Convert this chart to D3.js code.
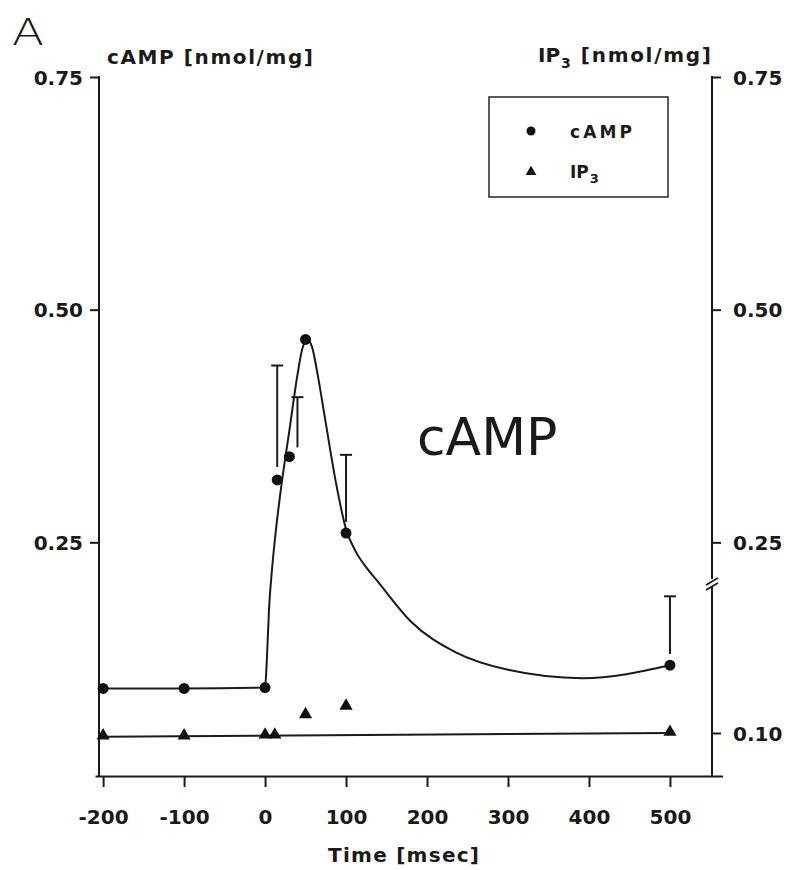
<!DOCTYPE html>
<html>
<head>
<meta charset="utf-8">
<script src="https://cdn.jsdelivr.net/npm/d3@7/dist/d3.min.js"></script>
<style>
  body { margin: 0; background: #fff; }
  text { font-family: "DejaVu Sans", sans-serif; fill: #1a1a1a; }
</style>
</head>
<body>
<div id="chart"></div>
<script>
// measured points (time in msec)
var campTime = [-200, -100, 0, 15, 30, 50, 100, 500];
var campVal = [0.093, 0.093, 0.094, 0.317, 0.342, 0.468, 0.260, 0.118];
// SE bars: x position (msec), top value, bottom value
var errTime = [15, 40, 100, 500];
var errTop = [0.440, 0.406, 0.344, 0.192];
var errBot = [0.331, 0.352, 0.272, 0.130];

// fitted cAMP curve
var fitTime = [-200, -100, 0, 2, 5, 9, 13, 20, 30, 40, 46, 52, 58, 65, 75, 88, 100, 112, 125, 140, 180, 235, 300, 392, 500];
var fitVal = [0.093, 0.093, 0.094, 0.12, 0.18, 0.225, 0.26, 0.31, 0.37, 0.43, 0.458, 0.468, 0.46, 0.43, 0.378, 0.312, 0.264, 0.24, 0.223, 0.207, 0.165, 0.132, 0.113, 0.104, 0.118];

var ip3Time = [-200, -100, 0, 12, 50, 100, 500];
var ip3Val = [0.096, 0.096, 0.097, 0.097, 0.119, 0.128, 0.100];
var ip3LineTime = [-200, 500];
var ip3LineVal = [0.096, 0.100];

var xTicks = [-200, -100, 0, 100, 200, 300, 400, 500];
var yTicks = [0.25, 0.50, 0.75];
var yRightLowTicks = [0.10];

var W = 794, H = 870;
var svg = d3.select("#chart").append("svg")
  .attr("width", W).attr("height", H);

var xScale = d3.scaleLinear().domain([-210, 565]).range([95, 722.6]);
var yScale = d3.scaleLinear().domain([0, 0.75]).range([775, 77]);
// right axis, below the break
var yLow = d3.scaleLinear().domain([0.10, 0.25]).range([733, 593.5]);

var axisX = 776, leftX = 99, rightX = 712;
var ink = "#1a1a1a";
var tickFont = "DejaVu Sans, sans-serif";

function styleTicks(g, xOff, anchor) {
  g.select(".domain").remove();
  g.selectAll("line").attr("stroke", ink).attr("stroke-width", 2);
  g.selectAll("text")
    .attr("font-size", 20).attr("font-weight", "bold")
    .attr("font-family", tickFont)
    .attr("fill", ink).attr("dy", "0.36em").attr("x", xOff)
    .attr("text-anchor", anchor);
}

// left axis
svg.append("g")
  .attr("transform", `translate(${leftX},0)`)
  .call(d3.axisLeft(yScale).tickValues(yTicks).tickSize(9).tickSizeOuter(0).tickFormat(d3.format(".2f")))
  .call(function(g) { styleTicks(g, -16, "end"); });
svg.append("line").attr("x1", leftX).attr("x2", leftX).attr("y1", 76).attr("y2", axisX)
  .attr("stroke", ink).attr("stroke-width", 2);

// right axis (upper part)
svg.append("g")
  .attr("transform", `translate(${rightX},0)`)
  .call(d3.axisRight(yScale).tickValues(yTicks).tickSize(9).tickSizeOuter(0).tickFormat(d3.format(".2f")))
  .call(function(g) { styleTicks(g, 21, "start"); });
// right axis (lower part)
svg.append("g")
  .attr("transform", `translate(${rightX},0)`)
  .call(d3.axisRight(yLow).tickValues(yRightLowTicks).tickSize(9).tickSizeOuter(0).tickFormat(d3.format(".2f")))
  .call(function(g) { styleTicks(g, 21, "start"); });
svg.append("line").attr("x1", rightX).attr("x2", rightX).attr("y1", 76).attr("y2", 579)
  .attr("stroke", ink).attr("stroke-width", 2);
svg.append("line").attr("x1", rightX).attr("x2", rightX).attr("y1", 586).attr("y2", axisX)
  .attr("stroke", ink).attr("stroke-width", 2);
// break marks
[0, 5].forEach(function(off) {
  svg.append("line")
    .attr("x1", rightX - 6).attr("y1", 585 + off)
    .attr("x2", rightX + 6).attr("y2", 578 + off)
    .attr("stroke", ink).attr("stroke-width", 1.8);
});

// bottom axis
svg.append("g")
  .attr("transform", `translate(0,${axisX})`)
  .call(d3.axisBottom(xScale).tickValues(xTicks).tickSize(11).tickSizeOuter(0).tickFormat(function(d) { return String(d); }))
  .call(function(g) {
    g.select(".domain").attr("stroke", ink).attr("stroke-width", 2.2);
    g.selectAll("line").attr("stroke", ink).attr("stroke-width", 2);
    g.selectAll("text")
      .attr("font-size", 20).attr("font-weight", "bold")
      .attr("font-family", tickFont)
      .attr("fill", ink).attr("dy", 0).attr("y", 48);
  });

// titles
svg.append("text").attr("x", 12).attr("y", 45).attr("font-size", 38).attr("font-weight", 200)
  .attr("textLength", 32).attr("lengthAdjust", "spacingAndGlyphs")
  .text("A");
svg.append("text").attr("x", 107).attr("y", 64).attr("font-size", 20).attr("font-weight", "bold")
  .attr("textLength", 206).attr("lengthAdjust", "spacing").text("cAMP [nmol/mg]");
var ipT = svg.append("text").attr("x", 538).attr("y", 62).attr("font-size", 20).attr("font-weight", "bold");
ipT.append("tspan").text("IP");
ipT.append("tspan").attr("font-size", 14).attr("dy", 6).attr("dx", 1).text("3");
ipT.append("tspan").attr("dy", -6).attr("dx", 10).attr("textLength", 130).attr("lengthAdjust", "spacing").text("[nmol/mg]");
svg.append("text").attr("x", 328).attr("y", 862)
  .attr("font-size", 20).attr("font-weight", "bold")
  .attr("textLength", 151).attr("lengthAdjust", "spacing").text("Time [msec]");
svg.append("text").attr("x", 417).attr("y", 455).attr("font-size", 52)
  .attr("font-family", "Liberation Sans, Arial, sans-serif").text("cAMP");

// fitted curve
var fitData = fitTime.map(function(t, i) { return { t: t, v: fitVal[i] }; });
svg.append("path")
  .datum(fitData)
  .attr("fill", "none")
  .attr("stroke", ink)
  .attr("stroke-width", 2)
  .attr("d", d3.line()
    .x(function(d) { return xScale(d.t); })
    .y(function(d) { return yScale(d.v); })
    .curve(d3.curveMonotoneX));

// error bars
errTime.forEach(function(t, i) {
  var x = xScale(t);
  svg.append("line").attr("x1", x).attr("x2", x)
    .attr("y1", yScale(errBot[i])).attr("y2", yScale(errTop[i]))
    .attr("stroke", ink).attr("stroke-width", 2);
  svg.append("line").attr("x1", x - 6).attr("x2", x + 6)
    .attr("y1", yScale(errTop[i])).attr("y2", yScale(errTop[i]))
    .attr("stroke", ink).attr("stroke-width", 2);
});

// cAMP points
svg.append("g").selectAll("circle")
  .data(campTime)
  .enter().append("circle")
  .attr("cx", function(d) { return xScale(d); })
  .attr("cy", function(d, i) { return yScale(campVal[i]); })
  .attr("r", 5.5)
  .attr("fill", "#111");

// IP3 line + points
var ipLine = ip3LineTime.map(function(t, i) { return { t: t, v: ip3LineVal[i] }; });
svg.append("path")
  .datum(ipLine)
  .attr("fill", "none").attr("stroke", ink).attr("stroke-width", 2)
  .attr("d", d3.line().x(function(d) { return xScale(d.t); }).y(function(d) { return yLow(d.v); }));

var tri = d3.symbol().type(d3.symbolTriangle).size(75);
svg.append("g").selectAll("path")
  .data(ip3Time)
  .enter().append("path")
  .attr("d", tri)
  .attr("transform", function(d, i) { return `translate(${xScale(d)},${yLow(ip3Val[i]) - 1})`; })
  .attr("fill", "#111");

// legend
var lg = svg.append("g");
lg.append("rect").attr("x", 489).attr("y", 97).attr("width", 179).attr("height", 100)
  .attr("fill", "none").attr("stroke", "#333").attr("stroke-width", 1.6);
lg.append("circle").attr("cx", 531).attr("cy", 131).attr("r", 4.5).attr("fill", "#111");
lg.append("text").attr("x", 570).attr("y", 138).attr("font-size", 17).attr("font-weight", "bold")
  .attr("textLength", 62).attr("lengthAdjust", "spacing").text("cAMP");
lg.append("path").attr("d", d3.symbol().type(d3.symbolTriangle).size(50))
  .attr("transform", "translate(531,172)").attr("fill", "#111");
var lt = lg.append("text").attr("x", 570).attr("y", 178).attr("font-size", 17).attr("font-weight", "bold");
lt.append("tspan").text("IP");
lt.append("tspan").attr("font-size", 13).attr("dy", 5).attr("dx", 1).text("3");
</script>
</body>
</html>
